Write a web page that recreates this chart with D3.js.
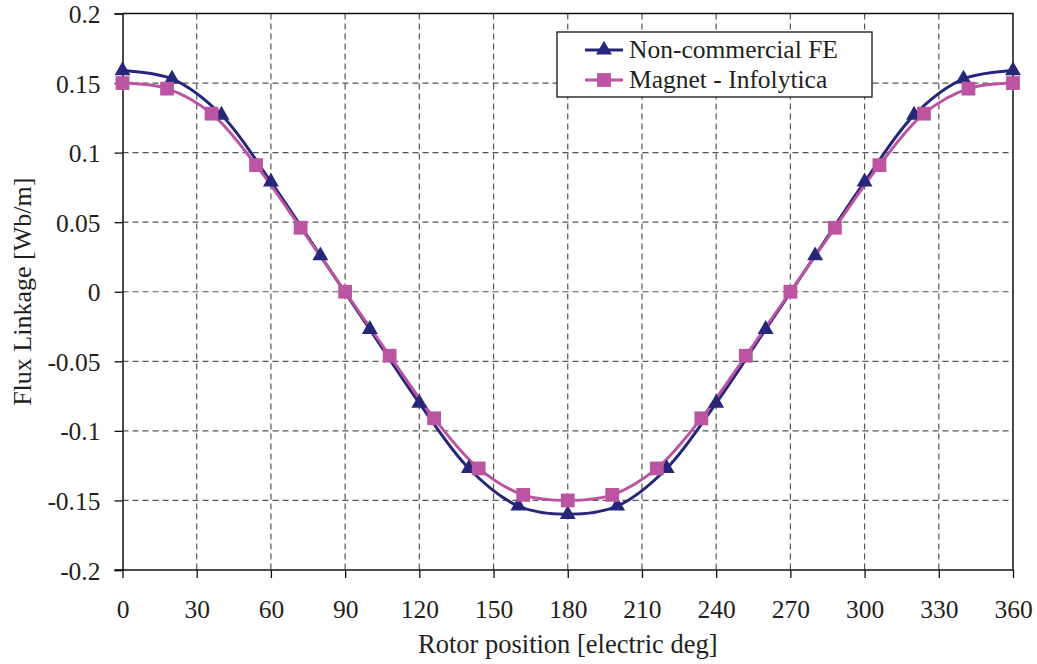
<!DOCTYPE html>
<html>
<head>
<meta charset="utf-8">
<script src="https://cdn.jsdelivr.net/npm/d3@7"></script>
<style>
  body { margin: 0; background: #fff; overflow: hidden; }
  svg { display: block; }
  svg text { font-family: "Liberation Serif", "Times New Roman", serif; fill: #231f20; }
</style>
</head>
<body>
<svg id="chart"></svg>
<script>
// rotor position samples and flux linkage for the two solvers
const feAngles = [0, 20, 40, 60, 80, 100, 120, 140, 160, 180, 200, 220, 240, 260, 280, 300, 320, 340, 360];
const feFlux = [0.159, 0.153, 0.127, 0.079, 0.026, -0.027, -0.080, -0.127, -0.154, -0.160, -0.154, -0.127, -0.080, -0.027, 0.026, 0.079, 0.127, 0.153, 0.159];

const magAngles = [0, 18, 36, 54, 72, 90, 108, 126, 144, 162, 180, 198, 216, 234, 252, 270, 288, 306, 324, 342, 360];
const magFlux = [0.150, 0.146, 0.128, 0.091, 0.046, 0, -0.046, -0.091, -0.127, -0.146, -0.150, -0.146, -0.127, -0.091, -0.046, 0, 0.046, 0.091, 0.128, 0.146, 0.150];

const xTicks = [0, 30, 60, 90, 120, 150, 180, 210, 240, 270, 300, 330, 360];
const yTicks = [0.2, 0.15, 0.1, 0.05, 0, -0.05, -0.1, -0.15, -0.2];
const yTickLabels = ["0.2", "0.15", "0.1", "0.05", "0", "-0.05", "-0.1", "-0.15", "-0.2"];
const seriesNames = ["Non-commercial FE", "Magnet - Infolytica"];

const width = 1037, height = 664;
const margin = { top: 13.5, right: 24, bottom: 94, left: 122.5 };
const innerWidth = width - margin.left - margin.right;
const innerHeight = height - margin.top - margin.bottom;

const navy = "#27277a";
const pink = "#bb55a1";

let svg = d3.select("#chart")
    .attr("width", width)
    .attr("height", height);

let g = svg.append("g")
    .attr("transform", `translate(${margin.left},${margin.top})`);

let xScale = d3.scaleLinear().domain([0, 360]).range([0, innerWidth]);
let yScale = d3.scaleLinear().domain([-0.2, 0.2]).range([innerHeight, 0]);

//dashed grid
g.append("g")
    .selectAll("line")
    .data(xTicks.slice(1, -1))
    .join("line")
    .attr("x1", d => xScale(d)).attr("x2", d => xScale(d))
    .attr("y1", 0).attr("y2", innerHeight)
    .attr("stroke", "#555").attr("stroke-width", 1.2)
    .attr("stroke-dasharray", "6,4");

g.append("g")
    .selectAll("line")
    .data(yTicks.slice(1, -1))
    .join("line")
    .attr("x1", 0).attr("x2", innerWidth)
    .attr("y1", d => yScale(d)).attr("y2", d => yScale(d))
    .attr("stroke", "#555").attr("stroke-width", 1.2)
    .attr("stroke-dasharray", "6,4");

//axes
let yAxis = g.append("g")
    .call(d3.axisLeft(yScale).tickValues(yTicks)
        .tickFormat((d, i) => yTickLabels[i]).tickSize(8).tickPadding(14));
let xAxis = g.append("g")
    .attr("transform", `translate(0,${innerHeight})`)
    .call(d3.axisBottom(xScale).tickValues(xTicks).tickSize(8));

[xAxis, yAxis].forEach(ax => {
    ax.attr("font-family", null).attr("font-size", null);
    ax.select(".domain").attr("stroke", "#111").attr("stroke-width", 1.5);
    ax.selectAll(".tick line").attr("stroke", "#111").attr("stroke-width", 1.3);
    ax.selectAll(".tick text").attr("font-size", "25.5px").attr("fill", "#231f20");
});
//baseline placement of the tick labels
xAxis.selectAll(".tick text").attr("dy", null).attr("y", 48);
yAxis.selectAll(".tick text").attr("dy", null).attr("y", 9);
xAxis.select(".domain").attr("d", `M-8,0H${innerWidth}`);

//frame on top and right
g.append("path")
    .attr("d", `M0,0H${innerWidth}V${innerHeight}`)
    .attr("fill", "none").attr("stroke", "#111").attr("stroke-width", 1.5);

//smoothed curves
let line = d3.line()
    .x(d => xScale(d[0]))
    .y(d => yScale(d[1]))
    .curve(d3.curveCatmullRom.alpha(0.5));

let feData = feAngles.map((a, i) => [a, feFlux[i]]);
let magData = magAngles.map((a, i) => [a, magFlux[i]]);

g.append("path").datum(feData)
    .attr("d", line).attr("fill", "none")
    .attr("stroke", navy).attr("stroke-width", 3);
g.append("path").datum(magData)
    .attr("d", line).attr("fill", "none")
    .attr("stroke", pink).attr("stroke-width", 3);

let triangle = d3.symbol().type(d3.symbolTriangle).size(110);
let square = d3.symbol().type(d3.symbolSquare).size(190);

g.append("g").selectAll("path")
    .data(feData)
    .join("path")
    .attr("d", triangle)
    .attr("transform", d => `translate(${xScale(d[0])},${yScale(d[1])})`)
    .attr("fill", navy);

g.append("g").selectAll("path")
    .data(magData)
    .join("path")
    .attr("d", square)
    .attr("transform", d => `translate(${xScale(d[0])},${yScale(d[1])})`)
    .attr("fill", pink);

//legend
let legend = svg.append("g").attr("transform", "translate(557,32)");
legend.append("rect")
    .attr("width", 315).attr("height", 65)
    .attr("fill", "#fff").attr("stroke", "#111").attr("stroke-width", 1.3);

[[navy, triangle], [pink, square]].forEach((s, i) => {
    let row = legend.append("g").attr("transform", `translate(0,${18 + i * 30})`);
    row.append("line")
        .attr("x1", 28).attr("x2", 66)
        .attr("stroke", s[0]).attr("stroke-width", 3);
    row.append("path")
        .attr("d", s[1])
        .attr("transform", "translate(47,0)")
        .attr("fill", s[0]);
    row.append("text")
        .attr("x", 72).attr("y", 8)
        .attr("font-size", "25.5px")
        .text(seriesNames[i]);
});

//axis titles
svg.append("text")
    .attr("x", margin.left + innerWidth / 2).attr("y", 653)
    .attr("text-anchor", "middle")
    .attr("font-size", "26.5px")
    .text("Rotor position [electric deg]");

svg.append("text")
    .attr("transform", `translate(31,${margin.top + innerHeight / 2}) rotate(-90)`)
    .attr("text-anchor", "middle")
    .attr("font-size", "26px")
    .text("Flux Linkage [Wb/m]");
</script>
</body>
</html>
